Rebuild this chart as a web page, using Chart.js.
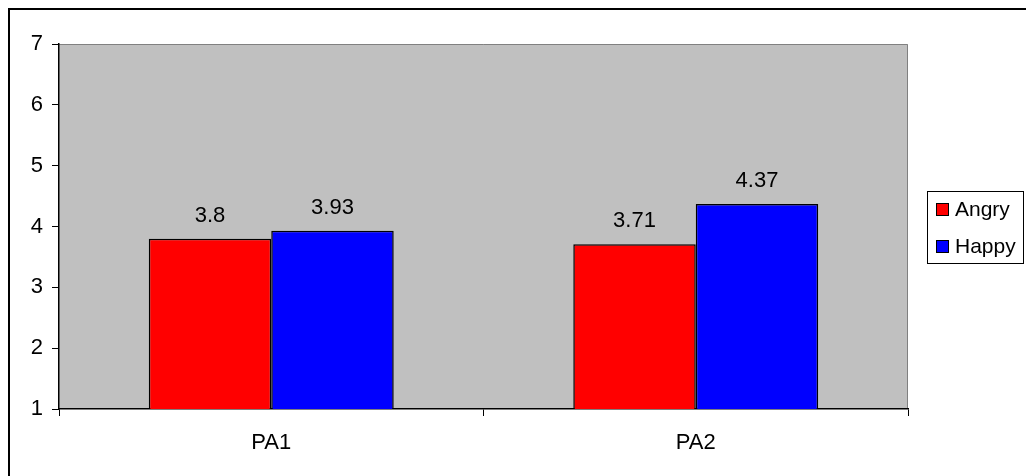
<!DOCTYPE html>
<html>
<head>
<meta charset="utf-8">
<script src="https://cdn.jsdelivr.net/npm/chart.js@4"></script>
<style>
  body { margin: 0; background: #fff; }
  #wrap { width: 1026px; height: 476px; }
</style>
</head>
<body>
<div id="wrap"><canvas id="chart" width="1026" height="476"></canvas></div>
<script>
var categories = ["PA1", "PA2"];
var angryValues = [3.8, 3.71];
var happyValues = [3.93, 4.37];
var seriesNames = ["Angry", "Happy"];
var seriesColors = ["#FF0000", "#0000FF"];

var FONT = "'Liberation Sans', Arial, sans-serif";

// gray plot area, outer frame, value labels and boxed legend
var excelLook = {
  id: "excelLook",
  beforeDraw: function (chart) {
    var ctx = chart.ctx;
    var a = chart.chartArea;
    ctx.save();
    ctx.fillStyle = "#C0C0C0";
    ctx.fillRect(a.left, a.top, a.right - a.left, a.bottom - a.top);
    ctx.strokeStyle = "#808080";
    ctx.lineWidth = 1;
    ctx.beginPath();
    ctx.moveTo(a.left, a.top + 0.5);
    ctx.lineTo(a.right - 0.5, a.top + 0.5);
    ctx.lineTo(a.right - 0.5, a.bottom);
    ctx.stroke();
    // outer frame (top and left only are inside the picture)
    ctx.strokeStyle = "#000";
    ctx.lineWidth = 2;
    ctx.beginPath();
    ctx.moveTo(9, chart.height);
    ctx.lineTo(9, 9);
    ctx.lineTo(chart.width, 9);
    ctx.stroke();
    ctx.restore();
  },
  afterDatasetsDraw: function (chart) {
    var ctx = chart.ctx;
    ctx.save();
    ctx.font = "22px " + FONT;
    ctx.fillStyle = "#000";
    ctx.textAlign = "center";
    ctx.textBaseline = "alphabetic";
    chart.data.datasets.forEach(function (ds, i) {
      chart.getDatasetMeta(i).data.forEach(function (bar, j) {
        ctx.fillText(String(ds.data[j]), bar.x, bar.y - 17);
      });
    });

    // legend
    var lx = 927, ly = 191, lw = 96, lh = 72;
    ctx.fillStyle = "#fff";
    ctx.fillRect(lx, ly, lw, lh);
    ctx.strokeStyle = "#000";
    ctx.lineWidth = 1;
    ctx.strokeRect(lx + 0.5, ly + 0.5, lw, lh);
    ctx.textAlign = "left";
    ctx.textBaseline = "middle";
    ctx.font = "21px " + FONT;
    chart.data.datasets.forEach(function (ds, i) {
      var y = ly + 12 + i * 37;
      ctx.fillStyle = ds.backgroundColor;
      ctx.fillRect(lx + 9, y, 12, 12);
      ctx.strokeStyle = "#000";
      ctx.strokeRect(lx + 9.5, y + 0.5, 12, 12);
      ctx.fillStyle = "#000";
      ctx.fillText(ds.label, lx + 28, y + 7);
    });
    ctx.restore();
  }
};

var ctx = document.getElementById("chart").getContext("2d");
var myChart = new Chart(ctx, {
  type: "bar",
  data: {
    labels: categories,
    datasets: [
      {
        label: seriesNames[0],
        data: angryValues,
        backgroundColor: seriesColors[0],
        borderColor: "#000",
        borderWidth: 1.5,
        borderSkipped: false,
      },
      {
        label: seriesNames[1],
        data: happyValues,
        backgroundColor: seriesColors[1],
        borderColor: "#000",
        borderWidth: 1.5,
        borderSkipped: false,
      },
    ],
  },
  options: {
    responsive: false,
    animation: false,
    categoryPercentage: 0.577,
    barPercentage: 1,
    layout: {
      padding: { left: 0, top: 44, right: 118, bottom: 0 },
    },
    plugins: {
      legend: { display: false },
      tooltip: { enabled: false },
    },
    scales: {
      x: {
        grid: {
          offset: true,
          drawOnChartArea: false,
          drawTicks: true,
          tickLength: 7,
          color: "#000",
        },
        border: { color: "#000", width: 1.5 },
        ticks: {
          color: "#000",
          padding: 14,
          font: { family: FONT, size: 22 },
        },
        afterFit: function (scale) {
          scale.height = 67;
        },
      },
      y: {
        min: 1,
        max: 7,
        ticks: {
          stepSize: 1,
          color: "#000",
          padding: 9,
          font: { family: FONT, size: 22 },
        },
        grid: {
          drawOnChartArea: false,
          drawTicks: true,
          tickLength: 7,
          color: "#000",
        },
        border: { color: "#000", width: 1.5 },
        afterFit: function (scale) {
          scale.width = 59;
        },
      },
    },
  },
  plugins: [excelLook],
});
</script>
</body>
</html>
